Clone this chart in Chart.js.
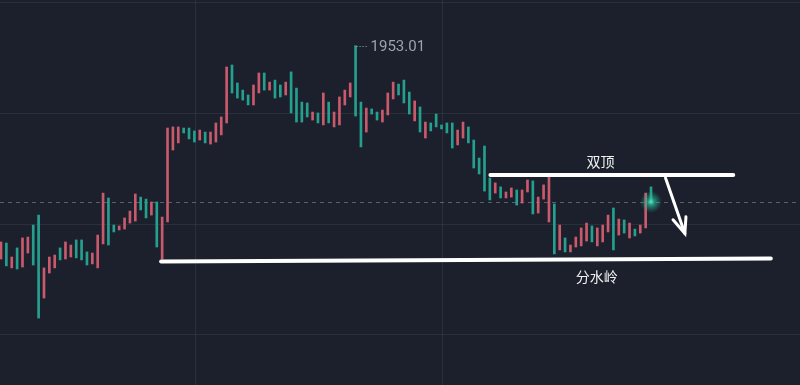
<!DOCTYPE html>
<html><head><meta charset="utf-8">
<script src="https://cdn.jsdelivr.net/npm/chart.js@4.4.1/dist/chart.umd.min.js"></script>
<style>html,body{margin:0;padding:0;background:#1b202c;overflow:hidden}#wrap{width:800px;height:385px}</style>
</head><body><div id="wrap"><canvas id="c" width="800" height="385"></canvas></div>
<script>
// candle bodies (open / close), index 0..121
const opens = [
1943.40,1944.12,1943.00,1943.90,1943.04,1943.67,1944.93,1945.38,1941.64,1942.77,
1943.00,1943.90,1943.40,1943.49,1944.26,1944.26,1943.72,1943.18,1943.00,1944.08,
1946.15,1944.93,1944.71,1944.75,1945.02,1945.11,1946.19,1946.10,1945.38,1945.97,
1943.40,1945.07,1948.31,1948.63,1949.30,1949.30,1949.17,1948.76,1949.12,1948.58,
1948.67,1948.99,1949.53,1952.14,1951.33,1951.01,1950.79,1950.34,1950.88,1951.78,
1951.01,1951.46,1951.24,1950.79,1951.83,1951.10,1950.47,1950.43,1949.66,1949.98,
1949.44,1950.47,1949.35,1949.44,1950.34,1950.70,1953.01,1950.47,1949.12,1950.16,
1950.02,1949.57,1949.89,1950.61,1951.28,1951.46,1950.92,1949.62,1950.25,1948.85,
1949.53,1949.93,1949.44,1949.53,1949.53,1948.54,1948.85,1949.35,1948.76,1947.95,
1948.49,1947.05,1946.37,1946.65,1946.15,1946.19,1946.51,1945.92,1946.42,1946.92,
1945.47,1946.10,1945.07,1945.88,1943.81,1944.35,1943.72,1943.94,1943.99,1944.21,
1944.89,1943.99,1944.17,1944.62,1945.70,1944.48,1945.16,1944.35,1944.75,1944.57,
1944.80,1946.65];
const closes = [
1944.17,1943.09,1943.49,1942.95,1944.35,1944.39,1943.13,1940.74,1943.00,1943.49,
1943.58,1943.36,1944.17,1944.03,1943.45,1943.36,1943.13,1943.67,1944.48,1946.37,
1944.03,1944.62,1944.89,1945.25,1945.56,1946.33,1945.61,1945.25,1945.97,1943.94,
1945.29,1949.30,1949.35,1949.35,1949.08,1948.81,1948.67,1949.21,1948.63,1949.12,
1949.53,1949.80,1952.05,1950.88,1950.65,1950.56,1950.34,1951.24,1951.78,1951.01,
1951.37,1950.65,1950.70,1951.37,1949.98,1949.57,1949.57,1949.80,1950.02,1949.53,
1950.88,1949.53,1950.02,1950.70,1951.01,1951.33,1949.84,1948.45,1950.20,1949.93,
1949.66,1950.11,1950.88,1951.37,1950.79,1950.43,1949.93,1950.52,1949.12,1949.57,
1949.17,1949.35,1949.26,1949.08,1948.40,1949.21,1949.57,1948.63,1947.50,1947.23,
1946.46,1946.06,1946.83,1946.15,1946.42,1946.60,1945.83,1946.51,1946.96,1945.43,
1946.19,1946.74,1947.10,1943.63,1944.93,1943.72,1944.03,1944.39,1944.80,1945.02,
1944.17,1944.80,1944.93,1945.38,1943.81,1945.20,1944.57,1945.02,1944.44,1944.93,
1946.37,1945.97];

const gridXIdx = [36.2, 82.0];
const gridYPrice = [1955, 1950, 1945, 1940];
const peakIndex = 66;
const peakLabel = '1953.01';
const topLabel = '双顶';
const bottomLabel = '分水岭';
// annotation drawing (index, price)
const topLine = [[91.1, 1947.19], [136.3, 1947.19]];
const topLabelPos = [111.6, 1947.80];
const bottomLine = [[29.8, 1943.29], [143.3, 1943.42]];
const bottomLabelPos = [110.9, 1942.60];
const arrowShaft = [[123.7, 1947.05], [127.3, 1944.55]];
const arrowHeadL = [125.1, 1945.17];
const arrowHeadR = [127.5, 1945.30];

const UP = '#c95a6c', DOWN = '#25a08f', BG = '#1b202c';

const decor = {
  id: 'decor',
  beforeDraw(chart) {
    const {ctx, scales: {x, y}} = chart;
    ctx.save();
    ctx.fillStyle = BG;
    ctx.fillRect(0, 0, chart.width, chart.height);
    ctx.strokeStyle = 'rgba(255,255,255,0.07)';
    ctx.lineWidth = 1;
    gridYPrice.forEach(p => {
      const py = Math.round(y.getPixelForValue(p)) + 0.5;
      ctx.beginPath(); ctx.moveTo(0, py); ctx.lineTo(chart.width, py); ctx.stroke();
    });
    gridXIdx.forEach(v => {
      const px = Math.round(x.getPixelForValue(v)) + 0.5;
      ctx.beginPath(); ctx.moveTo(px, 0); ctx.lineTo(px, chart.height); ctx.stroke();
    });
    // current price dashed line
    const last = closes[closes.length - 1];
    const ly = Math.round(y.getPixelForValue(last)) + 0.5;
    ctx.strokeStyle = 'rgba(140,150,160,0.55)';
    ctx.setLineDash([4, 4]);
    ctx.beginPath(); ctx.moveTo(0, ly); ctx.lineTo(chart.width, ly); ctx.stroke();
    ctx.restore();
  },
  afterDatasetsDraw(chart) {
    const {ctx, scales: {x, y}} = chart;
    const P = (a) => [x.getPixelForValue(a[0]), y.getPixelForValue(a[1])];
    ctx.save();
    // glow on last candle
    const li = closes.length - 1;
    const gx = x.getPixelForValue(li), gy = y.getPixelForValue(closes[li]);
    const g = ctx.createRadialGradient(gx, gy, 0, gx, gy, 11);
    g.addColorStop(0, 'rgba(90,240,200,0.95)');
    g.addColorStop(0.35, 'rgba(40,200,160,0.6)');
    g.addColorStop(1, 'rgba(30,160,140,0)');
    ctx.fillStyle = g;
    ctx.beginPath(); ctx.arc(gx, gy, 11, 0, Math.PI * 2); ctx.fill();

    // peak label
    const hx = x.getPixelForValue(peakIndex), hy = y.getPixelForValue(opens[peakIndex]);
    ctx.strokeStyle = 'rgba(200,205,215,0.8)';
    ctx.lineWidth = 1;
    ctx.setLineDash([1, 2]);
    ctx.beginPath(); ctx.moveTo(hx + 1, Math.round(hy) + 0.5); ctx.lineTo(hx + 13, Math.round(hy) + 0.5); ctx.stroke();
    ctx.setLineDash([]);
    ctx.fillStyle = '#9ea2ab';
    ctx.font = '15px Roboto, "Noto Sans", sans-serif';
    ctx.textBaseline = 'middle';
    ctx.textAlign = 'left';
    ctx.fillText(peakLabel, hx + 15, hy + 2);

    // white lines
    ctx.strokeStyle = '#ffffff';
    ctx.lineCap = 'round';
    ctx.lineWidth = 4;
    let a = P(topLine[0]), b = P(topLine[1]);
    ctx.beginPath(); ctx.moveTo(a[0], a[1]); ctx.lineTo(b[0], b[1]); ctx.stroke();
    a = P(bottomLine[0]); b = P(bottomLine[1]);
    ctx.beginPath(); ctx.moveTo(a[0], a[1]); ctx.lineTo(b[0], b[1]); ctx.stroke();
    // arrow
    ctx.lineWidth = 3;
    a = P(arrowShaft[0]); b = P(arrowShaft[1]);
    ctx.beginPath(); ctx.moveTo(a[0], a[1]); ctx.lineTo(b[0], b[1]); ctx.stroke();
    const l = P(arrowHeadL), r = P(arrowHeadR);
    ctx.beginPath(); ctx.moveTo(l[0], l[1]); ctx.lineTo(b[0], b[1]); ctx.lineTo(r[0], r[1]); ctx.stroke();

    // labels
    ctx.fillStyle = '#f2f2f2';
    ctx.font = '14px "Noto Sans CJK SC", sans-serif';
    ctx.textAlign = 'center';
    let t = P(topLabelPos);
    ctx.fillText(topLabel, t[0], t[1]);
    t = P(bottomLabelPos);
    ctx.fillText(bottomLabel, t[0], t[1]);
    ctx.restore();
  }
};

new Chart(document.getElementById('c'), {
  type: 'bar',
  data: {
    datasets: [{
      data: opens.map((o, i) => ({x: i, y: [o, closes[i]]})),
      backgroundColor: opens.map((o, i) => closes[i] >= o ? UP : DOWN),
      barThickness: 2,
      borderWidth: 0,
      minBarLength: 2
    }]
  },
  options: {
    responsive: false,
    animation: false,
    devicePixelRatio: 1,
    layout: {padding: 0},
    plugins: {legend: {display: false}, tooltip: {enabled: false}},
    scales: {
      x: {type: 'linear', display: false, min: -0.186, max: 148.73, offset: false},
      y: {type: 'linear', display: false, min: 1937.725, max: 1955.068}
    }
  },
  plugins: [decor]
});
</script>
</body></html>
